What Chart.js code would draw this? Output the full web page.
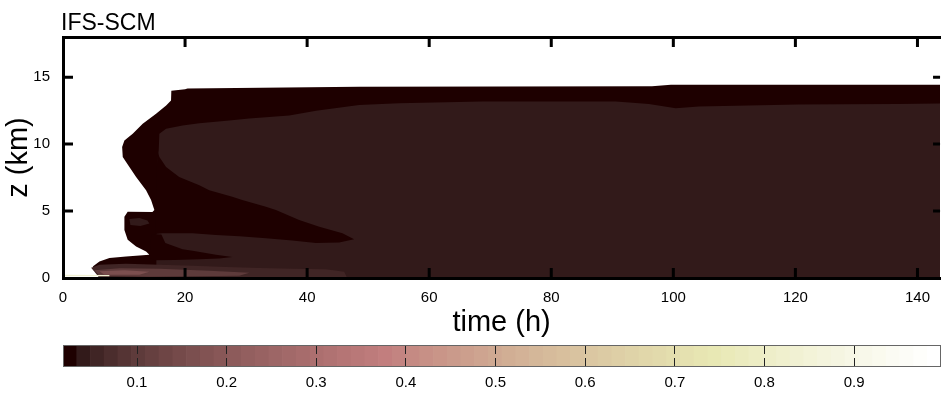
<!DOCTYPE html>
<html>
<head>
<meta charset="utf-8">
<script src="https://cdn.jsdelivr.net/npm/chart.js@4.4.1/dist/chart.umd.min.js"></script>
<style>
  html, body { margin: 0; padding: 0; background: #fff; }
  #wrap { position: relative; width: 941px; height: 393px; overflow: hidden; }
  #main { position: absolute; left: 0; top: 0; }
  #cbar { position: absolute; left: 0; top: 340px; }
</style>
</head>
<body>
<div id="wrap">
  <canvas id="main" width="941" height="340"></canvas>
  <canvas id="cbar" width="941" height="53"></canvas>
</div>
<script>
// axis ticks
const timeTicks = [0, 20, 40, 60, 80, 100, 120, 140];
const heightTicks = [0, 5, 10, 15];
const colorTicks = [0.1, 0.2, 0.3, 0.4, 0.5, 0.6, 0.7, 0.8, 0.9];
const colorLow = 0.0174, colorHigh = 0.997;

// contour outlines: time (h) / height (km), with colour level (1..64)
const cloudT = [145, 145, 99.6, 96.5, 48.5, 20.4, 20.0, 17.75, 17.7, 16.9, 15.25, 13.06, 11.42, 10.06, 9.69, 9.79, 10.88, 11.98, 13.61, 14.43, 14.97, 14.65, 10.6, 10.06, 10.06, 10.6, 11.98, 13.61, 14.15, 10.34, 7.61, 5.97, 4.88, 5.43, 5.97];
const cloudZ = [0, 14.44, 14.44, 14.32, 14.29, 14.16, 14.10, 13.99, 13.25, 12.88, 12.26, 11.52, 10.77, 10.27, 9.78, 9.03, 8.29, 7.55, 6.56, 5.82, 5.07, 4.93, 4.95, 4.58, 3.59, 2.85, 2.35, 1.98, 1.73, 1.60, 1.49, 1.23, 0.86, 0.62, 0];

const coreT = [15.79, 16.89, 19.6, 22.34, 27.25, 30.52, 37.07, 41.48, 48.52, 55.07, 68.65, 90.58, 95.98, 100.4, 104.15, 120.5, 136.9, 145, 145, 15.3, 15.3, 15.46, 15.68];
const coreZ = [10.77, 11.14, 11.39, 11.56, 11.76, 11.91, 12.13, 12.5, 12.93, 13.05, 13.19, 13.19, 13.0, 12.67, 12.8, 12.95, 13.0, 13.05, 0, 0, 2.85, 8.79, 9.53];

const tongue1T = [15.46, 15.79, 16.89, 19.04, 22.34, 23.97, 27.74, 29.37, 33.25, 34.89, 38.7, 42.0, 45.79, 47.7, 45.25, 41.43, 37.55, 33.25, 28.88, 25.07, 21.19, 16.28, 15.14];
const tongue1Z = [9.53, 9.03, 8.29, 7.55, 6.93, 6.56, 6.06, 5.82, 5.32, 5.07, 4.33, 3.83, 3.34, 2.9, 2.66, 2.62, 2.81, 2.96, 3.11, 3.22, 3.34, 3.34, 3.29];

const tongue2T = [14.48, 16.12, 16.77, 19.6, 21.24, 25.07, 27.74, 25.61, 22.34, 18.25, 14.97, 14.15];
const tongue2Z = [3.29, 3.25, 2.62, 2.14, 2.03, 1.73, 1.56, 1.45, 1.40, 1.34, 1.32, 1.51];

const notchT = [10.88, 12.52, 13.83, 14.15, 12.68, 11.05];
const notchZ = [4.41, 4.48, 4.29, 4.07, 3.89, 3.96];

const surfaceT = [4.61, 5.97, 10.34, 15.79, 21.24, 26.71, 32.16, 37.6, 43.07, 46.07, 46.56, 5.97, 5.15];
const surfaceZ = [0.77, 0.99, 1.06, 0.99, 0.91, 0.82, 0.74, 0.69, 0.65, 0.47, 0, 0, 0.47];

const surface2T = [5.15, 9.25, 15.79, 23.97, 30.52, 28.88, 14.15, 5.97];
const surface2Z = [0.58, 0.73, 0.69, 0.54, 0.39, 0.17, 0.10, 0.17];

const surface3T = [5.97, 10.06, 14.15, 12.52, 6.79];
const surface3Z = [0.5, 0.58, 0.47, 0.25, 0.25];

const groundT = [0, 7.6, 7.6, 0];
const groundZ = [0.25, 0.22, 0.13, 0.13];

const regions = [
  { t: cloudT, z: cloudZ, level: 1 },
  { t: coreT, z: coreZ, level: 2 },
  { t: tongue1T, z: tongue1Z, level: 1 },
  { t: tongue2T, z: tongue2Z, level: 1 },
  { t: notchT, z: notchZ, level: 2 },
  { t: surfaceT, z: surfaceZ, level: 3 },
  { t: surface2T, z: surface2Z, level: 6 },
  { t: surface3T, z: surface3Z, level: 10 },
  { t: groundT, z: groundZ, level: 54 }
];

// matlab style "pink" colormap
function pink(i, m) {
  const g = (i - 1) / (m - 1);
  const n = Math.floor(3 / 8 * m);
  const r = i <= n ? i / n : 1;
  const gg = i <= n ? 0 : (i <= 2 * n ? (i - n) / n : 1);
  const b = i <= 2 * n ? 0 : (i - 2 * n) / (m - 2 * n);
  const f = v => Math.round(255 * Math.sqrt((2 * g + v) / 3));
  return 'rgb(' + f(r) + ',' + f(gg) + ',' + f(b) + ')';
}

Chart.defaults.font.family = "'Liberation Sans', Arial, sans-serif";
Chart.defaults.color = '#000';

// inward tick marks and the panel title
const innerTicks = {
  id: 'innerTicks',
  afterDraw(chart) {
    const { ctx, chartArea: a, scales } = chart;
    ctx.save();
    ctx.strokeStyle = '#000';
    ctx.lineWidth = 3;
    ctx.beginPath();
    heightTicks.forEach(v => {
      if (v === 0) return;
      const y = scales.y.getPixelForValue(v);
      ctx.moveTo(a.left, y); ctx.lineTo(a.left + 10, y);
      ctx.moveTo(a.right - 7, y); ctx.lineTo(a.right, y);
    });
    timeTicks.forEach(v => {
      if (v === 0) return;
      const x = scales.x.getPixelForValue(v);
      ctx.moveTo(x, a.top); ctx.lineTo(x, a.top + 10);
      ctx.moveTo(x, a.bottom); ctx.lineTo(x, a.bottom - 10);
    });
    ctx.stroke();
    ctx.font = "23px 'Liberation Sans', Arial, sans-serif";
    ctx.fillStyle = '#000';
    ctx.textBaseline = 'alphabetic';
    ctx.fillText('IFS-SCM', a.left - 2, 29.5);
    ctx.restore();
  }
};

function renderMain() {
  new Chart(document.getElementById('main'), {
    type: 'line',
    data: {
      datasets: regions.map((r, k) => ({
        data: r.t.map((t, i) => ({ x: t, y: r.z[i] })),
        backgroundColor: pink(r.level, 64),
        borderWidth: 0,
        pointRadius: 0,
        tension: 0,
        fill: 'shape',
        order: regions.length - k
      }))
    },
    options: {
      responsive: false,
      animation: false,
      layout: { padding: { top: 37, left: 0, right: 0, bottom: 0 } },
      plugins: { legend: { display: false }, tooltip: { enabled: false } },
      scales: {
        x: {
          type: 'linear', position: 'bottom', min: 0, max: 143.7, z: 1,
          afterBuildTicks: s => { s.ticks = timeTicks.map(v => ({ value: v })); },
          afterFit: s => { s.height = 62; },
          ticks: { padding: 11, font: { size: 15 } },
          grid: { drawOnChartArea: false, drawTicks: false },
          border: { width: 3, color: '#000', z: 1 },
          title: { display: true, text: 'time (h)', font: { size: 29 }, padding: { top: 0, bottom: 0 } }
        },
        xTop: {
          type: 'linear', position: 'top', min: 0, max: 143.7, z: 1,
          afterFit: s => { s.height = 0; },
          ticks: { display: false },
          grid: { drawOnChartArea: false, drawTicks: false },
          border: { width: 3, color: '#000', z: 1 }
        },
        y: {
          type: 'linear', position: 'left', min: 0, max: 18, z: 1,
          afterBuildTicks: s => { s.ticks = heightTicks.map(v => ({ value: v })); },
          afterFit: s => { s.width = 63; },
          ticks: { padding: 13, font: { size: 15 } },
          grid: { drawOnChartArea: false, drawTicks: false },
          border: { width: 3, color: '#000', z: 1 },
          title: { display: true, text: 'z (km)', font: { size: 29 }, padding: { top: 2, bottom: 0 } }
        }
      }
    },
    plugins: [innerTicks]
  });
}

// thin frame round the colour bar
const barFrame = {
  id: 'barFrame',
  afterDraw(chart) {
    const { ctx, chartArea: a } = chart;
    ctx.save();
    ctx.strokeStyle = '#666';
    ctx.lineWidth = 1;
    ctx.strokeRect(a.left + 0.5, a.top + 0.5, a.right - a.left - 1, a.bottom - a.top - 1);
    ctx.restore();
  }
};

function renderColorbar() {
  const bandLabels = [], bandColors = [], bandHeights = [];
  for (let i = 1; i <= 64; i++) {
    bandLabels.push(i);
    bandColors.push(pink(i, 64));
    bandHeights.push(1);
  }
  new Chart(document.getElementById('cbar'), {
    type: 'bar',
    data: {
      labels: bandLabels,
      datasets: [{
        data: bandHeights,
        backgroundColor: bandColors,
        borderWidth: 0,
        barPercentage: 1,
        categoryPercentage: 1
      }]
    },
    options: {
      responsive: false,
      animation: false,
      layout: { padding: { left: 63, top: 5, right: 0, bottom: 0 } },
      plugins: { legend: { display: false }, tooltip: { enabled: false } },
      scales: {
        x: { display: false },
        y: { display: false, min: 0, max: 1 },
        v: {
          type: 'linear', position: 'bottom', min: colorLow, max: colorHigh,
          offset: false, z: 1,
          afterBuildTicks: s => { s.ticks = colorTicks.map(v => ({ value: v })); },
          afterFit: s => { s.height = 26; },
          ticks: { padding: 7, font: { size: 15 } },
          grid: { offset: false, drawOnChartArea: true, drawTicks: false, color: '#222', lineWidth: 1, z: 1 },
          border: { display: false, dash: [9, 4], z: 1 }
        }
      }
    },
    plugins: [barFrame]
  });
}

document.addEventListener('DOMContentLoaded', function() {
  renderMain();
  renderColorbar();
});
</script>
</body>
</html>
